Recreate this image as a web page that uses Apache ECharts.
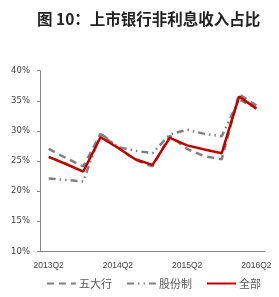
<!DOCTYPE html>
<html><head><meta charset="utf-8">
<script src="https://cdn.jsdelivr.net/npm/echarts@6/dist/echarts.min.js"></script>
<style>html,body{margin:0;padding:0;background:#fff}#c{width:279px;height:297px}</style>
</head><body><div id="c"></div>
<script>
const categories = ['2013Q2','2013Q3','2013Q4','2014Q1','2014Q2','2014Q3','2014Q4','2015Q1','2015Q2','2015Q3','2015Q4','2016Q1','2016Q2'];
const bigFive = [27.0, 25.5, 24.1, 29.5, 27.2, 25.2, 24.1, 29.2, 27.0, 25.8, 25.3, 36.1, 34.2];
const joinStock = [22.1, 21.85, 21.6, 29.6, 27.3, 26.7, 26.3, 29.4, 30.2, 29.5, 29.1, 35.2, 33.8];
const total = [25.7, 24.5, 23.25, 28.95, 27.2, 25.3, 24.35, 28.85, 27.6, 26.9, 26.3, 35.7, 33.7];
const yTicks = [10, 15, 20, 25, 30, 35, 40];
const names = ['五大行', '股份制', '全部'];

const chart = echarts.init(document.getElementById('c'), null, {renderer: 'canvas'});
const grey = '#808080';
chart.setOption({
  animation: false,
  title: {
    text: '图 10：上市银行非利息收入占比',
    left: 32, top: 6,
    textStyle: {fontFamily: 'Noto Sans CJK SC', fontSize: 15.5, fontWeight: 'bold', color: '#222'}
  },
  legend: {
    bottom: 3, left: 41,
    itemWidth: 29, itemHeight: 6, itemGap: 14,
    itemStyle: {opacity: 0},
    textStyle: {fontFamily: 'Noto Sans CJK SC', fontSize: 11, color: '#595959', padding: [0,0,0,-2]},
    data: names
  },
  grid: {left: 40, right: 14, top: 70.7, bottom: 45.7},
  xAxis: {
    type: 'category', data: categories, boundaryGap: true,
    axisLine: {lineStyle: {color: '#868686', width: 1}},
    axisTick: {interval: 1, length: 4, lineStyle: {color: '#868686'}},
    axisLabel: {interval: 3, fontFamily: 'Liberation Sans', fontSize: 8.5, color: '#404040', margin: 10}
  },
  yAxis: {
    type: 'value', min: yTicks[0], max: yTicks[yTicks.length-1], interval: 5,
    axisLine: {show: true, lineStyle: {color: '#868686', width: 1}},
    axisTick: {show: true, length: 3, lineStyle: {color: '#868686'}},
    splitLine: {show: false},
    axisLabel: {formatter: v => v + '%', fontFamily: 'DejaVu Sans', fontSize: 8.5, color: '#404040', margin: 10}
  },
  series: [
    {name: names[0], type: 'line', data: bigFive, showSymbol: false, symbol: 'none',
     lineStyle: {color: grey, width: 2.5, type: [7, 5]}, itemStyle: {color: grey}},
    {name: names[1], type: 'line', data: joinStock, showSymbol: false, symbol: 'none',
     lineStyle: {color: grey, width: 2.5, type: [7, 4, 1.5, 4, 1.5, 4]}, itemStyle: {color: grey}},
    {name: names[2], type: 'line', data: total, showSymbol: false, symbol: 'none',
     lineStyle: {color: '#C00000', width: 2.5}, itemStyle: {color: '#C00000'}}
  ]
});
</script></body></html>
